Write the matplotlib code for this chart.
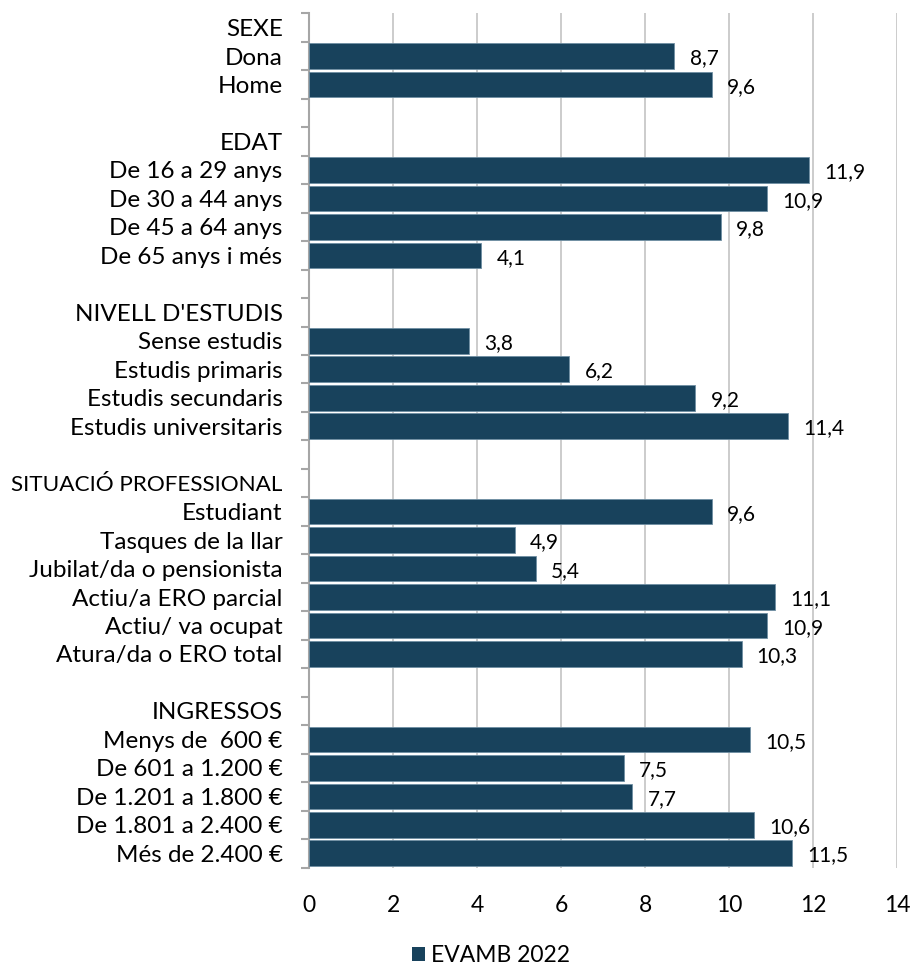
import numpy as np
import matplotlib
matplotlib.use('Agg')
import matplotlib.pyplot as plt
from matplotlib.patches import Patch

plt.rcParams['font.family'] = ['Lato', 'DejaVu Sans']

# ========================================
# データ
# ========================================
group_titles = ['SEXE', 'EDAT', "NIVELL D'ESTUDIS", 'SITUACIÓ PROFESSIONAL', 'INGRESSOS']

sexe_labels = ['Dona', 'Home']
sexe_values = [8.7, 9.6]

edat_labels = ['De 16 a 29 anys', 'De 30 a 44 anys', 'De 45 a 64 anys', 'De 65 anys i més']
edat_values = [11.9, 10.9, 9.8, 4.1]

estudis_labels = ['Sense estudis', 'Estudis primaris', 'Estudis secundaris', 'Estudis universitaris']
estudis_values = [3.8, 6.2, 9.2, 11.4]

situacio_labels = ['Estudiant', 'Tasques de la llar', 'Jubilat/da o pensionista',
                   'Actiu/a ERO parcial', 'Actiu/ va ocupat', 'Atura/da o ERO total']
situacio_values = [9.6, 4.9, 5.4, 11.1, 10.9, 10.3]

ingressos_labels = ['Menys de  600 €', 'De 601 a 1.200 €', 'De 1.201 a 1.800 €',
                    'De 1.801 a 2.400 €', 'Més de 2.400 €']
ingressos_values = [10.5, 7.5, 7.7, 10.6, 11.5]

series_name = 'EVAMB 2022'
x_ticks = [0, 2, 4, 6, 8, 10, 12, 14]

# 行を組み立てる（見出し行と空行は値なし）
groups = [(sexe_labels, sexe_values), (edat_labels, edat_values),
          (estudis_labels, estudis_values), (situacio_labels, situacio_values),
          (ingressos_labels, ingressos_values)]
row_labels, row_values = [], []
for i, (title, (labs, vals)) in enumerate(zip(group_titles, groups)):
    if i > 0:
        row_labels.append('')
        row_values.append(np.nan)
    row_labels.append(title)
    row_values.append(np.nan)
    row_labels.extend(labs)
    row_values.extend(vals)

n = len(row_labels)
ypos = np.arange(n)
bar_color = '#18425C'

# ========================================
# グラフ
# ========================================
fig = plt.figure(figsize=(9.12, 9.67), dpi=100)
ax = fig.add_axes([309 / 912, 1 - 867.5 / 967, (897 - 309) / 912, (867.5 - 13.3) / 967])

vals = np.array(row_values, dtype=float)
mask = ~np.isnan(vals)
ax.barh(ypos[mask], vals[mask], height=0.9, color=bar_color,
        edgecolor='#6F8FA3', linewidth=0.6, zorder=3)

for y, v in zip(ypos[mask], vals[mask]):
    ax.text(v + 0.36, y + 0.08, f'{v:.1f}'.replace('.', ','), va='center', ha='left',
            fontsize=15, color='black')

ax.set_ylim(n - 0.5, -0.5)
ax.set_xlim(0, 14)
ax.set_xticks(x_ticks)
ax.set_xticklabels([str(t) for t in x_ticks])
ax.set_yticks(ypos)
ax.set_yticklabels(row_labels)
ax.set_yticks(np.arange(n + 1) - 0.5, minor=True)
ax.tick_params(axis='y', which='major', length=0, pad=19, labelsize=17.5)
ax.tick_params(axis='y', which='minor', length=6, width=1.5, color='#A6A6A6')
ax.tick_params(axis='x', length=0, pad=20, labelsize=16.5)

ax.grid(axis='x', color='#C8C8C8', linewidth=1.3, zorder=0)
for s in ['top', 'right', 'bottom']:
    ax.spines[s].set_visible(False)
ax.spines['left'].set_color('#A6A6A6')
ax.spines['left'].set_linewidth(1.5)

# 長いラベルは左端からはみ出さないよう縮める
fig.canvas.draw()
renderer = fig.canvas.get_renderer()
for lab in ax.get_yticklabels():
    w = lab.get_window_extent(renderer).width
    if w > 272:
        lab.set_fontsize(17.5 * 272 / w)

ax.legend(handles=[Patch(facecolor=bar_color, label=series_name)],
          loc='center', bbox_to_anchor=(491 / 912, 1 - 956 / 967),
          bbox_transform=fig.transFigure, frameon=False, fontsize=16.5,
          handlelength=0.57, handleheight=0.57, handletextpad=0.3,
          borderpad=0, borderaxespad=0)

fig.savefig('out.png', dpi=100)
